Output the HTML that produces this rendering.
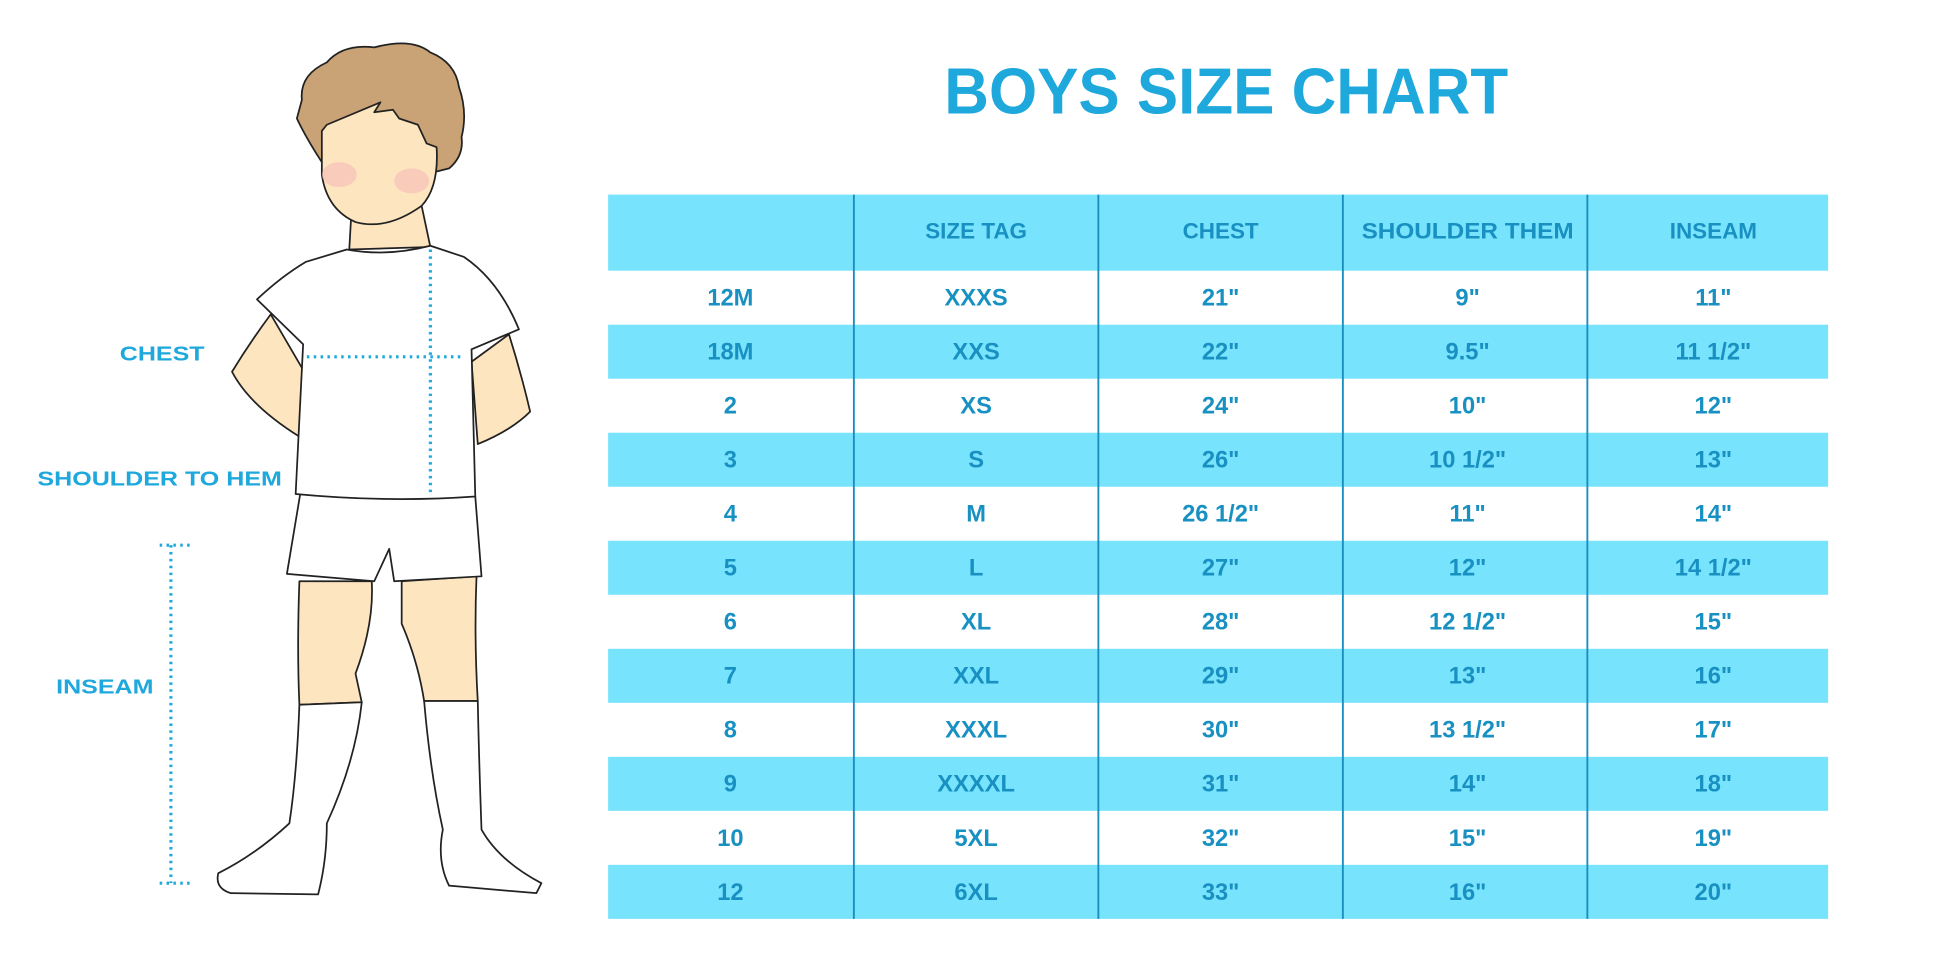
<!DOCTYPE html>
<html><head><meta charset="utf-8"><style>
html,body{margin:0;padding:0;background:#fff;}
svg{display:block;}
</style></head><body>
<svg width="1946" height="973" viewBox="0 0 1560 780" xmlns="http://www.w3.org/2000/svg" font-family="Liberation Sans, Arial, sans-serif" font-weight="bold">
<rect width="1560" height="780" fill="#fff"/>
<text x="983" y="91" text-anchor="middle" font-size="52" fill="#1ea8dc" textLength="452" lengthAdjust="spacingAndGlyphs">BOYS SIZE CHART</text>
<g transform="translate(-2.5,-1)">
<rect x="490" y="157" width="978" height="61" fill="#78e3fd"/>
<rect x="490" y="261.3" width="978" height="43.3" fill="#78e3fd"/>
<rect x="490" y="347.9" width="978" height="43.3" fill="#78e3fd"/>
<rect x="490" y="434.5" width="978" height="43.3" fill="#78e3fd"/>
<rect x="490" y="521.1" width="978" height="43.3" fill="#78e3fd"/>
<rect x="490" y="607.7" width="978" height="43.3" fill="#78e3fd"/>
<rect x="490" y="694.3" width="978" height="43.3" fill="#78e3fd"/>
<g stroke="#1b8ec0" stroke-width="1.5">
<line x1="687" y1="157" x2="687" y2="737.6"/>
<line x1="883" y1="157" x2="883" y2="737.6"/>
<line x1="1079" y1="157" x2="1079" y2="737.6"/>
<line x1="1275" y1="157" x2="1275" y2="737.6"/>
</g>
<g fill="#1891c2" font-size="18" text-anchor="middle">
<text x="785" y="192">SIZE TAG</text><text x="981" y="192">CHEST</text><text x="1179" y="192" textLength="170" lengthAdjust="spacingAndGlyphs">SHOULDER THEM</text><text x="1376" y="192">INSEAM</text>
</g>
<g fill="#1891c2" font-size="19" text-anchor="middle">
<g transform="translate(0,246)"><text x="588">12M</text><text x="785">XXXS</text><text x="981">21"</text><text x="1179">9"</text><text x="1376">11"</text></g>
<g transform="translate(0,289.3)"><text x="588">18M</text><text x="785">XXS</text><text x="981">22"</text><text x="1179">9.5"</text><text x="1376">11 1/2"</text></g>
<g transform="translate(0,332.6)"><text x="588">2</text><text x="785">XS</text><text x="981">24"</text><text x="1179">10"</text><text x="1376">12"</text></g>
<g transform="translate(0,375.9)"><text x="588">3</text><text x="785">S</text><text x="981">26"</text><text x="1179">10 1/2"</text><text x="1376">13"</text></g>
<g transform="translate(0,419.2)"><text x="588">4</text><text x="785">M</text><text x="981">26 1/2"</text><text x="1179">11"</text><text x="1376">14"</text></g>
<g transform="translate(0,462.5)"><text x="588">5</text><text x="785">L</text><text x="981">27"</text><text x="1179">12"</text><text x="1376">14 1/2"</text></g>
<g transform="translate(0,505.8)"><text x="588">6</text><text x="785">XL</text><text x="981">28"</text><text x="1179">12 1/2"</text><text x="1376">15"</text></g>
<g transform="translate(0,549.1)"><text x="588">7</text><text x="785">XXL</text><text x="981">29"</text><text x="1179">13"</text><text x="1376">16"</text></g>
<g transform="translate(0,592.4)"><text x="588">8</text><text x="785">XXXL</text><text x="981">30"</text><text x="1179">13 1/2"</text><text x="1376">17"</text></g>
<g transform="translate(0,635.7)"><text x="588">9</text><text x="785">XXXXL</text><text x="981">31"</text><text x="1179">14"</text><text x="1376">18"</text></g>
<g transform="translate(0,679)"><text x="588">10</text><text x="785">5XL</text><text x="981">32"</text><text x="1179">15"</text><text x="1376">19"</text></g>
<g transform="translate(0,722.3)"><text x="588">12</text><text x="785">6XL</text><text x="981">33"</text><text x="1179">16"</text><text x="1376">20"</text></g>
</g>
</g>
<g stroke="#222" stroke-width="1.4" stroke-linejoin="round">
<path d="M217,252 Q200,275 186,298 Q200,325 240,350 L245,300 Z" fill="#fde5bf"/>
<path d="M408,268 Q418,300 425,330 Q410,345 383,356 L378,290 Z" fill="#fde5bf"/>
<path d="M240,466 L298,466 Q300,500 285,540 L290,563 L240,565 Q238,520 240,466 Z" fill="#fde5bf"/>
<path d="M322,466 L382,462 Q380,510 383,562 L340,562 Q335,530 322,500 Z" fill="#fde5bf"/>
<path d="M240,565 Q238,620 232,660 Q205,685 175,700 Q172,712 185,716 L255,717 Q262,690 262,660 Q285,610 290,563 Z" fill="#fff"/>
<path d="M340,562 Q345,620 355,665 Q350,690 360,710 L430,716 L434,708 Q400,690 386,665 Q384,610 383,562 Z" fill="#fff"/>
<path d="M241,394 L381,398 L386,462 L316,466 L312,440 L300,466 L230,460 Z" fill="#fff"/>
<path d="M282,165 L280,200 L345,198 L338,165 Z" fill="#fde5bf"/>
<path d="M278,200 Q310,206 345,197 L372,206 Q400,225 416,264 L378,280 L381,398 Q310,403 237,396 L243,276 L206,240 Q225,222 245,210 Z" fill="#fff"/>
<path d="M242,80 Q240,60 262,50 Q275,35 300,38 Q330,30 345,42 Q365,50 368,70 Q375,90 370,110 Q372,125 360,135 L340,140 L258,130 Q245,110 238,95 Z" fill="#c9a276"/>
<path d="M262,100 L305,82 L300,90 L315,88 L320,95 L335,100 L342,115 L350,118 Q352,150 338,165 Q310,185 285,178 Q262,168 258,140 L258,105 Z" fill="#fde5bf"/>
</g>
<ellipse cx="272" cy="140" rx="14" ry="10" fill="#f7b9b9" opacity="0.6"/>
<ellipse cx="330" cy="145" rx="14" ry="10" fill="#f7b9b9" opacity="0.6"/>
<g stroke="#1ea8dc" stroke-width="2.5" stroke-dasharray="2 3.5" fill="none">
<line x1="345" y1="200" x2="345" y2="398"/>
<line x1="246" y1="286" x2="372" y2="286"/>
<line x1="137" y1="437" x2="137" y2="708"/>
<line x1="128" y1="437" x2="152" y2="437"/>
<line x1="128" y1="708" x2="152" y2="708"/>
</g>
<g fill="#1ea8dc" font-size="16">
<text x="96" y="289" textLength="68" lengthAdjust="spacingAndGlyphs">CHEST</text>
<text x="30" y="389" textLength="196" lengthAdjust="spacingAndGlyphs">SHOULDER TO HEM</text>
<text x="45" y="556" textLength="78" lengthAdjust="spacingAndGlyphs">INSEAM</text>
</g>
</svg>
</body></html>
